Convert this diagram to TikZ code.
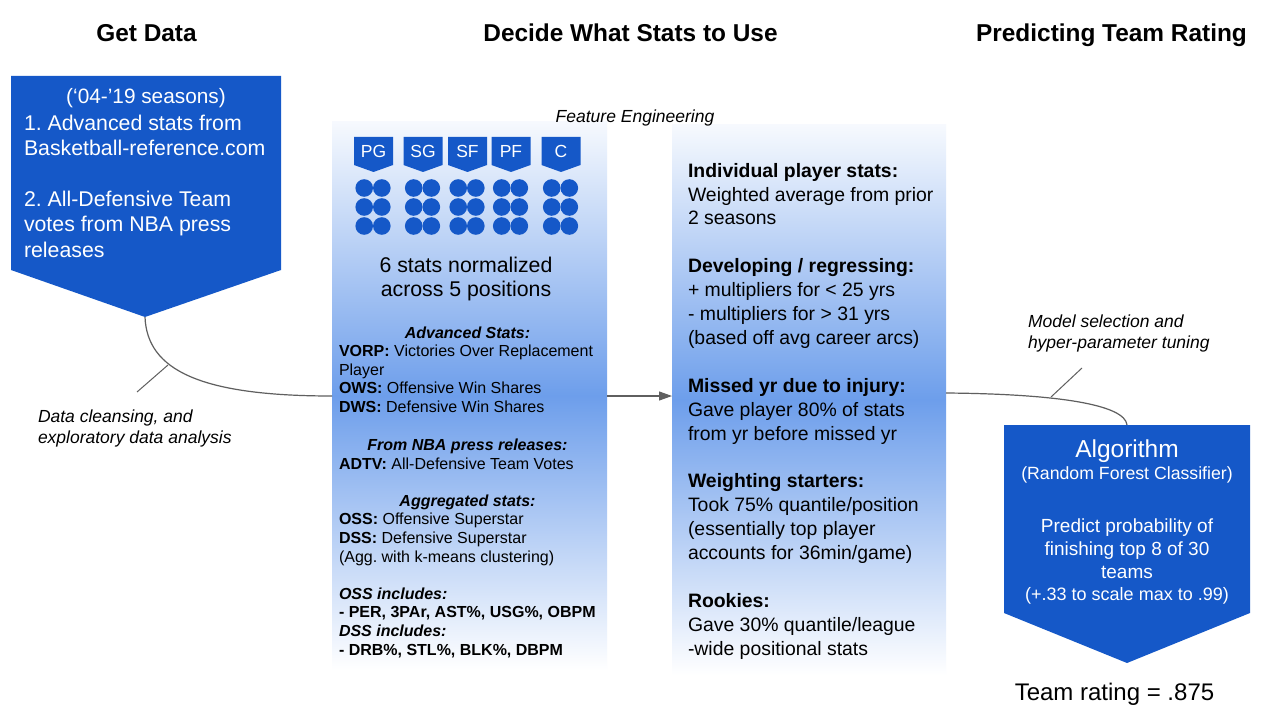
\documentclass[tikz,border=0pt]{standalone}
\usepackage{fontspec}
\setmainfont{Liberation Sans}
\usetikzlibrary{arrows.meta}
\definecolor{gblue}{HTML}{1558C8}
\definecolor{lblue}{HTML}{6D9EEB}
\definecolor{cgray}{HTML}{5F5F5F}
\newcommand{\fsz}[2]{\fontsize{#1}{#2}\selectfont}
\frenchspacing
\begin{document}
\begin{tikzpicture}[x=1pt,y=-1pt,
  txt/.style={inner sep=0pt, outer sep=0pt},
  conn/.style={draw=cgray, line width=1.2pt},
  callout/.style={draw=cgray, line width=1pt},
  panelbox/.style={draw=none, inner sep=0pt, outer sep=0pt, top color=lblue!6, bottom color=white, middle color=lblue},
  title/.style={txt, anchor=base, font=\bfseries\fsz{24.4}{28}},
  badgetxt/.style={txt, anchor=base, text=white, font=\fsz{17.5}{20}},
  dot/.style={fill=gblue, draw=none},
  note/.style={txt, anchor=north west, align=left, font=\itshape\fsz{17.5}{21.5}}]
\useasboundingbox (0,0) rectangle (1264,714);
\fill[white] (0,0) rectangle (1264,714);

% titles
\node[title] (t1) at (146.5,42) {Get Data};
\node[title] (t2) at (630.5,42) {Decide What Stats to Use};
\node[title] (t3) at (1111.5,42) {Predicting Team Rating};

% get data box
\fill[gblue] (11,76) -- (281,76) -- (281,270) -- (145,317) -- (11,270) -- cycle;
\coordinate (gettip) at (145,317);
\node[txt, anchor=base, text=white, font=\fsz{20.8}{25}] (seasons) at (146,104) {(‘04-’19 seasons)};
\node[txt, anchor=north west, align=left, text=white, font=\fsz{21.3}{25.4}] (src) at (24,114.7)
  {1. Advanced stats from\\Basketball-reference.com\\[25.4pt]2. All-Defensive Team\\votes from NBA press\\releases};

% panels
\node[panelbox, minimum width=275pt, minimum height=548pt, anchor=north west] (mid) at (332,122) {};
\node[panelbox, minimum width=274pt, minimum height=550pt, anchor=north west] (feat) at (672,125) {};

% connectors
\draw[conn] (gettip) .. controls (147,370) and (200,396) .. (mid.west);
\draw[conn, -{Triangle[length=13pt,width=9pt]}] (mid.east) -- (mid.east -| feat.west);
\coordinate (algtop) at (1127,425);
\draw[conn] ([yshift=7pt]feat.east) .. controls (1060,394) and (1125,405) .. (algtop);
\coordinate (c1a) at (168,365);
\coordinate (c1b) at (137,392);
\draw[callout] (c1a) -- (c1b);
\coordinate (c2a) at (1051,397);
\coordinate (c2b) at (1082,368);
\draw[callout] (c2a) -- (c2b);

% labels on connectors
\node[note] (clean) at (38,409.5) {Data cleansing, and\\exploratory data analysis};
\node[note] (model) at (1028,314.5) {Model selection and\\hyper-parameter tuning};
\node[txt, anchor=base, font=\itshape\fsz{17.5}{21}] (fe) at (635,123) {Feature Engineering};

% badges and dots
\foreach \lab/\xc in {PG/373.5, SG/423, SF/467.5, PF/511, C/561} {
  \fill[gblue] (\xc-19.5,137) -- (\xc+19.5,137) -- (\xc+19.5,165) -- (\xc,172) -- (\xc-19.5,165) -- cycle;
  \node[badgetxt] (b\lab) at (\xc,158) {\lab};
  \foreach \dy in {188,207,226} {
    \fill[dot] (\xc-9.3,\dy) circle (8.8pt);
    \fill[dot] (\xc+8.3,\dy) circle (8.8pt);
  }
}

\node[txt, anchor=north, align=center, font=\fsz{21.3}{24}] (norm) at (466,257.5) {6 stats normalized\\across 5 positions};

\node[txt, anchor=north west, align=left, font=\fsz{16}{18.6}] (stats) at (339,326.5) {%
\makebox[257pt]{\bfseries\itshape Advanced Stats:}\\
\textbf{VORP:} Victories Over Replacement\\
Player\\
\textbf{OWS:} Offensive Win Shares\\
\textbf{DWS:} Defensive Win Shares\\[19.4pt]
\makebox[257pt]{\bfseries\itshape From NBA press releases:}\\
\textbf{ADTV:} All-Defensive Team Votes\\[18.6pt]
\makebox[257pt]{\bfseries\itshape Aggregated stats:}\\
\textbf{OSS:} Offensive Superstar\\
\textbf{DSS:} Defensive Superstar\\
(Agg. with k-means clustering)\\[18.6pt]
\textbf{\itshape OSS includes:}\\
\textbf{- PER, 3PAr, AST\%, USG\%, OBPM}\\
\textbf{\itshape DSS includes:}\\
\textbf{- DRB\%, STL\%, BLK\%, DBPM}};

\node[txt, anchor=north west, align=left, font=\fsz{19.4}{23.9}] (eng) at (688,163.1) {%
\textbf{Individual player stats:}\\
Weighted average from prior\\
2 seasons\\[23.9pt]
\textbf{Developing / regressing:}\\
+ multipliers for < 25 yrs\\
- multipliers for > 31 yrs\\
(based off avg career arcs)\\[23.9pt]
\textbf{Missed yr due to injury:}\\
Gave player 80\% of stats\\
from yr before missed yr\\[23.9pt]
\textbf{Weighting starters:}\\
Took 75\% quantile/position\\
(essentially top player\\
accounts for 36min/game)\\[23.9pt]
\textbf{Rookies:}\\
Gave 30\% quantile/league\\
-wide positional stats};

% algorithm box
\fill[gblue] (1004,425) -- (1250,425) -- (1250,613) -- (1127,663) -- (1004,613) -- cycle;
\node[txt, anchor=base, text=white, font=\fsz{24.5}{28}] (alg) at (1127,457) {Algorithm};
\node[txt, anchor=base, text=white, font=\fsz{17.7}{21}] (rf) at (1127,479) {(Random Forest Classifier)};
\node[txt, anchor=north, align=center, text=white, font=\fsz{19}{23}] (pred) at (1127,518.4) {Predict probability of\\finishing top 8 of 30\\teams};
\node[txt, anchor=base, text=white, font=\fsz{18}{21}] (scale) at (1127,600) {(+.33 to scale max to .99)};

\node[txt, anchor=base, font=\fsz{24}{28}] (rating) at (1114.5,700) {Team rating = .875};
\end{tikzpicture}
\end{document}
